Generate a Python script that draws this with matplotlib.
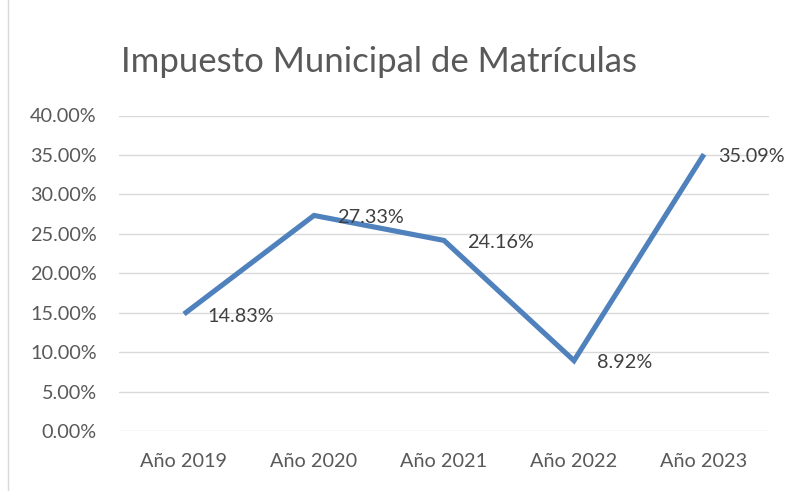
import matplotlib
matplotlib.use("Agg")
import matplotlib.pyplot as plt
from matplotlib.patches import Rectangle
from matplotlib.ticker import FuncFormatter, MultipleLocator

categories = ["Año 2019", "Año 2020", "Año 2021", "Año 2022", "Año 2023"]
values = [14.83, 27.33, 24.16, 8.92, 35.09]
title = "Impuesto Municipal de Matrículas"

FONT = "Lato"
W, H = 792, 491
fig = plt.figure(figsize=(W / 100, H / 100), dpi=100)
fig.patch.set_facecolor("white")

ax = fig.add_axes([119 / W, 1 - 431 / H, (769 - 119) / W, (431 - 115.5) / H])
x = list(range(len(categories)))
ax.plot(x, values, color="#4F81BD", lw=3.7, solid_joinstyle="miter", solid_capstyle="butt", zorder=3)

ax.set_xlim(-0.5, len(categories) - 0.5)
ax.set_ylim(0, 40)
ax.yaxis.set_major_locator(MultipleLocator(5))
ax.yaxis.set_major_formatter(FuncFormatter(lambda v, p: f"{v:.2f}%"))
ax.set_xticks(x)
ax.set_xticklabels(categories)
ax.grid(axis="y", color="#d9d9d9", lw=1.0)
ax.set_axisbelow(True)
for s in ax.spines.values():
    s.set_visible(False)
ax.tick_params(axis="both", length=0, labelsize=14.3, labelcolor="#595959")
ax.tick_params(axis="y", pad=16)
ax.tick_params(axis="x", pad=16)
for lab in ax.get_xticklabels() + ax.get_yticklabels():
    lab.set_fontfamily(FONT)

offsets = [16.5, 16.5, 16.5, 16.5, 10]
for xi, v, off in zip(x, values, offsets):
    ax.annotate(f"{v:.2f}%", (xi, v), xytext=(off, -1.5), textcoords="offset points",
                ha="left", va="center", fontsize=14.3, color="#404040", family=FONT,
                annotation_clip=False)

fig.text(121 / W, 1 - 62 / H, title, fontsize=25, color="#595959", family=FONT,
         ha="left", va="center")

fig.patches.append(Rectangle((8 / W, -0.2), 1.2, 1.2 + (1 - 16 / H), transform=fig.transFigure,
                             fill=False, edgecolor="#d9d9d9", lw=1.0))

fig.savefig("out.png", dpi=100)
